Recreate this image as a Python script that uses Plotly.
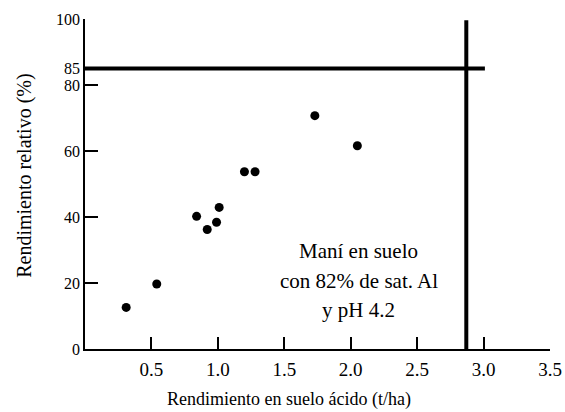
import plotly.graph_objects as go

# Data
yield_acid = [0.31, 0.54, 0.84, 0.92, 0.99, 1.01, 1.20, 1.28, 1.73, 2.05]
rel_yield = [12.6, 19.7, 40.2, 36.2, 38.4, 42.9, 53.7, 53.7, 70.7, 61.6]

critical_rel = 85
critical_yield = 2.87
hline_x = [0, 3.01]
vline_y = [0, 99.6]

x_ticks = [0.5, 1.0, 1.5, 2.0, 2.5, 3.0, 3.5]
x_ticktext = ["0.5", "1.0", "1.5", "2.0", "2.5", "3.0", "3.5"]
y_ticks = [0, 20, 40, 60, 80, 85, 100]
y_ticktext = ["0", "20", "40", "60", "80", "85", "100"]

note_lines = ["Maní en suelo", "con 82% de sat. Al", "y pH 4.2"]
note_y = [29.6, 20.5, 11.9]
note_x = 2.06

x_title = "Rendimiento en suelo ácido (t/ha)"
y_title = "Rendimiento relativo (%)"

FONT = "Liberation Serif"

fig = go.Figure()
fig.add_trace(go.Scatter(
    x=hline_x, y=[critical_rel, critical_rel], mode="lines",
    line=dict(color="black", width=4), cliponaxis=False, showlegend=False))
fig.add_trace(go.Scatter(
    x=[critical_yield, critical_yield], y=vline_y, mode="lines",
    line=dict(color="black", width=4), cliponaxis=False, showlegend=False))
fig.add_trace(go.Scatter(
    x=yield_acid, y=rel_yield, mode="markers",
    marker=dict(color="black", size=9), cliponaxis=False, showlegend=False))

for txt, yy in zip(note_lines, note_y):
    fig.add_annotation(x=note_x, y=yy, text=txt, showarrow=False,
                       font=dict(family=FONT, size=21, color="black"))

fig.add_annotation(xref="paper", yref="paper", x=0.439, y=-0.154,
                   xanchor="center", yanchor="middle", showarrow=False,
                   text=x_title, font=dict(family=FONT, size=18, color="black"))
fig.add_annotation(xref="paper", yref="paper", x=-0.129, y=0.525,
                   xanchor="center", yanchor="middle", showarrow=False,
                   textangle=-90,
                   text=y_title, font=dict(family=FONT, size=20, color="black"))

fig.update_layout(
    width=565, height=412,
    margin=dict(l=85, r=15, t=19, b=63, autoexpand=False),
    paper_bgcolor="white", plot_bgcolor="white",
    font=dict(family=FONT, size=18, color="black"),
    showlegend=False,
)
fig.update_xaxes(
    range=[0, 3.5], tickvals=x_ticks, ticktext=x_ticktext, automargin=False,
    showline=True, linecolor="black", linewidth=1.5, mirror=False,
    ticks="inside", ticklen=12, tickwidth=1.5, tickcolor="black",
    showgrid=False, zeroline=False, ticklabelstandoff=2,
    tickfont=dict(size=19),
)
fig.update_yaxes(
    range=[0, 100], tickvals=y_ticks, ticktext=y_ticktext, automargin=False,
    showline=True, linecolor="black", linewidth=1.5, mirror=False,
    ticks="inside", ticklen=13, tickwidth=1.5, tickcolor="black",
    showgrid=False, zeroline=False, ticklabelstandoff=0,
    tickfont=dict(size=16),
)

fig.write_html(
    "out.html",
    config={"displayModeBar": False},
    post_script="document.body.style.margin='0';document.body.style.overflow='hidden';",
)
